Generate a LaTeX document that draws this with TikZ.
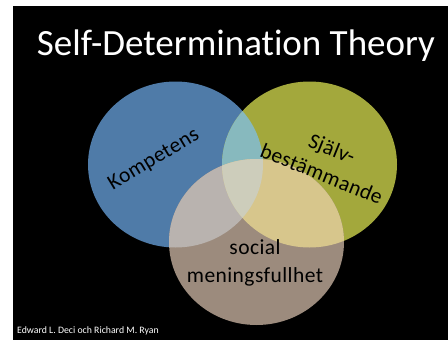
\documentclass[tikz,border=0pt]{standalone}
\usepackage{fontspec}
\setmainfont{Carlito}[Ligatures=NoCommon]
\usetikzlibrary{positioning}
\definecolor{slideBlack}{gray}{0}
\definecolor{kompBlue}{HTML}{4F7BA8}
\definecolor{sjalvGreen}{HTML}{A3A83C}
\definecolor{socTan}{HTML}{9C8B7D}
\definecolor{kompSjalv}{HTML}{87B9BE}
\definecolor{kompSoc}{HTML}{B9B3AF}
\definecolor{sjalvSoc}{HTML}{D7C68C}
\definecolor{allThree}{HTML}{CDCDBB}

\tikzset{
    vennText/.style={text=black, inner sep=0pt, font=\fontsize{21.5}{27.5}\selectfont\addfontfeatures{LetterSpace=2}},
    titleText/.style={text=white, inner sep=0pt, font=\fontsize{37}{44}\selectfont},
    footText/.style={text=white, inner sep=0pt, font=\fontsize{9.8}{12}\selectfont}
}

\begin{document}
\begin{tikzpicture}[x=1pt, y=-1pt]
    \useasboundingbox (0,0) rectangle (448,340);
    \fill[white] (0,0) rectangle (448,340);
    \fill[slideBlack] (13,6) rectangle (448,340);

    \coordinate (K) at (175.5,164.5);
    \coordinate (S) at (309.5,164.5);
    \coordinate (M) at (256.5,242);
    \def\rx{87.5}
    \def\ry{83}

    % Circles
    \fill[kompBlue] (K) ellipse [x radius=\rx, y radius=\ry];
    \fill[sjalvGreen] (S) ellipse [x radius=\rx, y radius=\ry];
    \fill[socTan] (M) ellipse [x radius=\rx, y radius=\ry];

    % Overlaps
    \begin{scope}
        \clip (K) ellipse [x radius=\rx, y radius=\ry];
        \fill[kompSjalv] (S) ellipse [x radius=\rx, y radius=\ry];
        \fill[kompSoc] (M) ellipse [x radius=\rx, y radius=\ry];
    \end{scope}
    \begin{scope}
        \clip (S) ellipse [x radius=\rx, y radius=\ry];
        \fill[sjalvSoc] (M) ellipse [x radius=\rx, y radius=\ry];
        \clip (K) ellipse [x radius=\rx, y radius=\ry];
        \fill[allThree] (M) ellipse [x radius=\rx, y radius=\ry];
    \end{scope}

    % Labels
    \node[titleText, anchor=base] (title) at (236,55) {Self-Determination Theory};
    \node[vennText, rotate=31] (kompetens) at (154,160) {Kompetens};
    \node[vennText, rotate=-22, align=center] (sjalv) at (327,161) {Själv-\\bestämmande};
    \node[vennText, align=center] (social) at (255,263) {social\\meningsfullhet};
    \node[footText, anchor=base west] (authors) at (17,333) {Edward L. Deci och Richard M. Ryan};
\end{tikzpicture}
\end{document}
